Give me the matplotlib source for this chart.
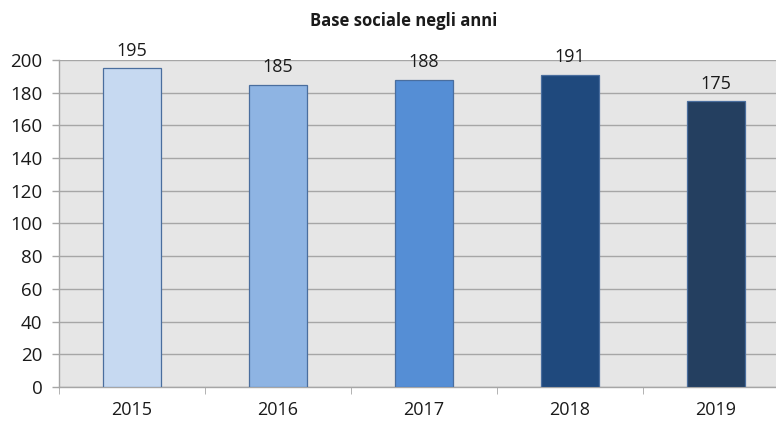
import matplotlib
matplotlib.use("Agg")
import matplotlib.pyplot as plt
import numpy as np

# Data
years = ["2015", "2016", "2017", "2018", "2019"]
members = [195, 185, 188, 191, 175]
bar_colours = ["#C6D9F1", "#8EB4E3", "#558ED5", "#1F497D", "#243F60"]

TITLE = "Base sociale negli anni"
FONT = ["Open Sans", "DejaVu Sans"]
GRID_COLOUR = "#A6A6A6"
PLOT_BG = "#E6E6E6"
TEXT_COLOUR = "#1A1A1A"

plt.rcParams["font.family"] = FONT

fig = plt.figure(figsize=(7.76, 4.21), dpi=100)
fig.patch.set_facecolor("white")

# plot area runs past the right edge of the image, like the source
ax = fig.add_axes([59 / 776, 34 / 421, 730 / 776, 327 / 421])
ax.set_facecolor(PLOT_BG)

x = np.arange(len(years))
ax.bar(x, members, width=0.4, color=bar_colours,
       edgecolor="#4A6E9E", linewidth=0.9, zorder=3)

for xi, v in zip(x, members):
    ax.annotate(str(v), (xi, v), xytext=(0, 6), textcoords="offset points",
                ha="center", va="bottom", fontsize=13, color=TEXT_COLOUR)

ax.set_xlim(-0.5, len(years) - 0.5)
ax.set_ylim(0, 200)
ax.set_yticks(range(0, 201, 20))
ax.yaxis.grid(True, color=GRID_COLOUR, linewidth=1.0, zorder=1)
ax.set_axisbelow(True)

ax.set_xticks(x)
ax.set_xticklabels(years)
ax.set_xticks(np.arange(-0.5, len(years) + 0.5, 1), minor=True)
ax.tick_params(axis="x", which="major", length=0, pad=10,
               labelsize=13, labelcolor=TEXT_COLOUR)
ax.tick_params(axis="x", which="minor", length=5, color=GRID_COLOUR,
               direction="out")
ax.tick_params(axis="y", length=5, color=GRID_COLOUR, width=1.0,
               labelsize=13.5, labelcolor=TEXT_COLOUR, pad=7)

for side in ("top", "right"):
    ax.spines[side].set_visible(False)
for side in ("left", "bottom"):
    ax.spines[side].set_color(GRID_COLOUR)
    ax.spines[side].set_linewidth(1.0)

fig.text(404 / 776, 1 - 21 / 421, TITLE, ha="center",
         va="center", fontsize=12, fontweight="bold", color=TEXT_COLOUR)

fig.savefig("out.png", dpi=100, facecolor="white")
